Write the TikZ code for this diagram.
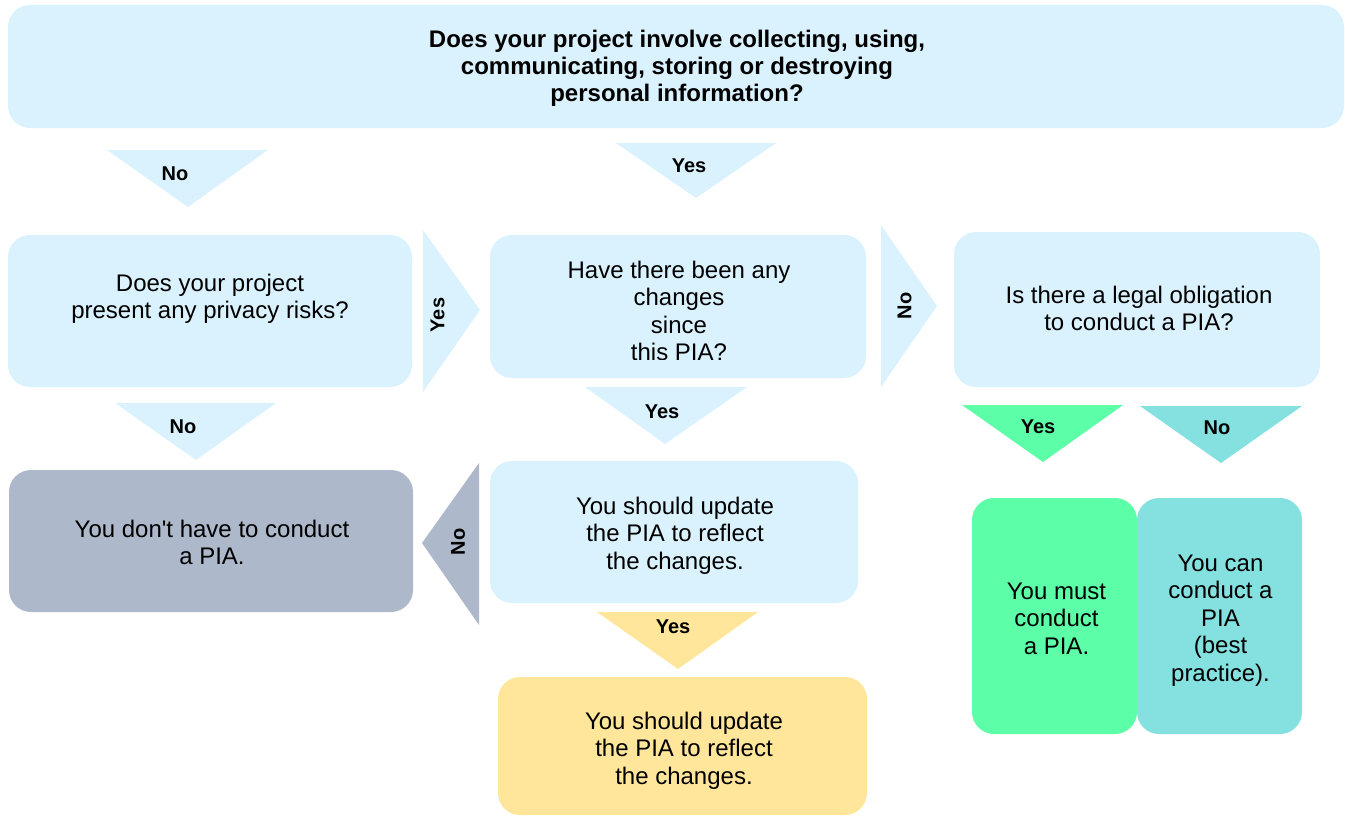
\documentclass[tikz,border=0pt]{standalone}
\usepackage{fontspec}
\setmainfont{Liberation Sans}[Ligatures=TeXOff]
\definecolor{lb}{HTML}{DAF2FE}
\definecolor{gr}{HTML}{ADB9CA}
\definecolor{ye}{HTML}{FFE69A}
\definecolor{gn}{HTML}{5CFFA7}
\definecolor{tl}{HTML}{85E1E0}
\newcommand{\bodyfont}{\fontsize{24}{27.5}\selectfont}
\newcommand{\titlefont}{\bfseries\fontsize{24}{27}\selectfont}
\newcommand{\labfont}{\bfseries\fontsize{20}{24}\selectfont}
\begin{document}
\begin{tikzpicture}[x=1pt,y=-1pt,
  box/.style={rounded corners=22pt, inner sep=0pt, outer sep=0pt, draw=none},
  txt/.style={font=\bodyfont, align=center, inner sep=0pt, anchor=north},
  lab/.style={font=\labfont, inner sep=0pt, anchor=base},
  rlab/.style={font=\labfont, inner sep=0pt, rotate=90, anchor=center}]
\useasboundingbox (0,0) rectangle (1345,816);
% boxes
\node[box, fill=lb, minimum width=1336pt, minimum height=123pt] (q0) at (676,66.5) {};
\node[box, fill=lb, minimum width=404pt, minimum height=152pt] (qa) at (210,311) {};
\node[box, fill=lb, minimum width=376pt, minimum height=143pt] (qb) at (678,306.5) {};
\node[box, fill=lb, minimum width=366pt, minimum height=155pt] (qc) at (1137,309.5) {};
\node[box, fill=gr, minimum width=404pt, minimum height=142pt] (rd) at (211,541) {};
\node[box, fill=lb, minimum width=368pt, minimum height=142pt] (re) at (674,532) {};
\node[box, fill=ye, minimum width=369pt, minimum height=138pt] (rf) at (682.5,746) {};
\node[box, fill=gn, minimum width=165pt, minimum height=236pt] (rg) at (1054.5,616) {};
\node[box, fill=tl, minimum width=165pt, minimum height=236pt] (rh) at (1219.5,616) {};
% texts
\node[txt, font=\titlefont] (q0t) at (677,28.7) {\strut Does your project involve collecting, using,\\communicating, storing or destroying\\personal information?};
\node[txt] (qat) at (210,271.75) {\strut Does your project\\present any privacy risks?};
\begin{scope}
\clip (490,235) rectangle (866,359);
\node[txt] (qbt) at (679,258.75) {\strut Have there been any\\changes\\since\\this PIA?};
\end{scope}
\node[txt] (qct) at (1139,283.75) {\strut Is there a legal obligation\\to conduct a PIA?};
\node[txt] (rdt) at (212,517.75) {\strut You don't have to conduct\\a PIA.};
\node[txt] (ret) at (675,494.75) {\strut You should update\\the PIA to reflect\\the changes.};
\node[txt] (rft) at (684,709.75) {\strut You should update\\the PIA to reflect\\the changes.};
\node[txt] (rgt) at (1056.5,579.75) {\strut You must\\conduct\\a PIA.};
\node[txt] (rht) at (1220.5,551.75) {\strut You can\\conduct a\\PIA\\(best\\practice).};
% arrow triangles
\fill[lb] (107,150) -- (268,150) -- (188,207) -- cycle;
\fill[lb] (616,143) -- (776,143) -- (696,198) -- cycle;
\fill[lb] (423,230) -- (480,310) -- (423,392) -- cycle;
\fill[lb] (881,225) -- (937,306) -- (881,387) -- cycle;
\fill[lb] (115,403) -- (276,403) -- (196,460) -- cycle;
\fill[lb] (585,387) -- (747,387) -- (665,444) -- cycle;
\fill[gr] (479,463) -- (479,625) -- (422,543) -- cycle;
\fill[ye] (597,612) -- (758,612) -- (678,669) -- cycle;
\fill[gn] (962,405) -- (1123,405) -- (1043,462) -- cycle;
\fill[tl] (1140,406) -- (1302,406) -- (1221,463) -- cycle;
% labels
\node[lab] (l1) at (175,180) {No};
\node[lab] (l2) at (689,172) {Yes};
\node[rlab] (l3) at (437.5,315) {Yes};
\node[rlab] (l4) at (904.5,306) {No};
\node[lab] (l5) at (183,433) {No};
\node[lab] (l6) at (662,418) {Yes};
\node[rlab] (l7) at (458,542) {No};
\node[lab] (l8) at (673,633) {Yes};
\node[lab] (l9) at (1038,433) {Yes};
\node[lab] (l10) at (1217,434) {No};
\end{tikzpicture}
\end{document}
